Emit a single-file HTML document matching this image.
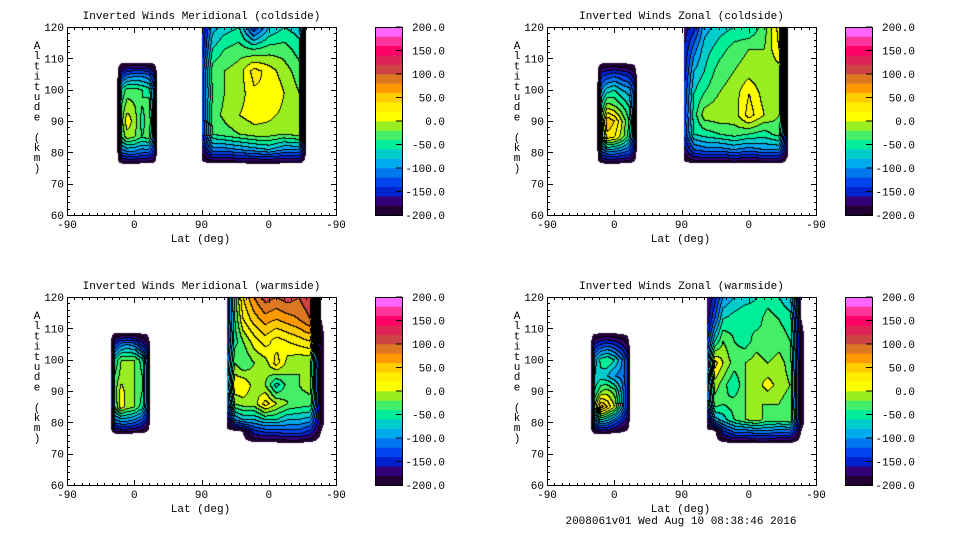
<!DOCTYPE html>
<html><head><meta charset="utf-8"><style>
html,body{margin:0;padding:0;background:#fff;}
#wrap{position:relative;width:960px;height:540px;overflow:hidden;}
canvas,svg{position:absolute;left:0;top:0;}
text{font-family:"Liberation Mono",monospace;font-size:11px;fill:#000;}
</style></head><body>
<div id="wrap">
<canvas id="cv" width="960" height="540"></canvas>
<svg id="sv" width="960" height="540"></svg>
</div>
<script>
// ---- data ----
const levelColors = ["#220033","#330077","#0022cc","#0044ee","#0077ee","#00aaee","#00cccc","#00ee99","#44ee66","#99ee22","#ffff00","#ffee00","#ffcc00","#ff9900","#dd7722","#cc4444","#dd2255","#ff0066","#ff3399","#ff66ff"];
const cbTicks = [-200,-150,-100,-50,0,50,100,150,200];
const cbLabels = ["-200.0","-150.0","-100.0","-50.0","0.0","50.0","100.0","150.0","200.0"];
const altTicks = [60,70,80,90,100,110,120];
const latTickLabels = ["-90","0","90","0","-90"];
const panelTitles = ["Inverted Winds Meridional (coldside)","Inverted Winds Zonal (coldside)","Inverted Winds Meridional (warmside)","Inverted Winds Zonal (warmside)"];

const altsA = [109,105,100,95,90,85,80,76];
const latsA1 = [-23,-18,-10,0,10,19,26,31];
const latsA3 = [-32,-27,-18,-10,0,10,17,22];
const vals1A = [
[-210,-210,-210,-210,-210,-210,-210,-210],
[-210,-150,-120,-110,-110,-120,-150,-210],
[-210,-60,-30,-30,-40,-50,-110,-210],
[-210,-40,-10,-20,-40,-30,-110,-210],
[-210,-30,15,-10,-50,-20,-110,-210],
[-210,-40,-10,-20,-40,-30,-110,-210],
[-210,-120,-110,-110,-120,-120,-150,-210],
[-210,-210,-210,-210,-210,-210,-210,-210]];
const vals2A = [
[-210,-210,-210,-210,-210,-210,-210,-210],
[-210,-150,-140,-130,-140,-150,-170,-210],
[-210,-100,-70,-60,-80,-90,-130,-210],
[-210,-60,-10,-20,-40,-60,-130,-210],
[-210,-30,60,40,0,-40,-130,-210],
[-210,-40,30,20,-10,-50,-130,-210],
[-210,-130,-110,-110,-120,-130,-170,-210],
[-210,-210,-210,-210,-210,-210,-210,-210]];
const vals3A = [
[-210,-210,-210,-210,-210,-210,-210,-210],
[-210,-150,-110,-100,-110,-150,-170,-210],
[-210,-60,-20,-20,-20,-50,-120,-210],
[-210,-40,-10,-15,-20,-40,-120,-210],
[-210,-30,10,-10,-20,-40,-120,-210],
[-210,-40,10,-10,-20,-50,-120,-210],
[-210,-120,-110,-110,-120,-140,-170,-210],
[-210,-210,-210,-210,-210,-210,-210,-210]];
const vals4A = [
[-210,-210,-210,-210,-210,-210,-210,-210],
[-210,-160,-140,-130,-140,-160,-180,-210],
[-210,-90,-50,-40,-60,-100,-140,-210],
[-210,-80,-70,-80,-100,-110,-140,-210],
[-210,-60,-20,-10,-30,-90,-140,-210],
[-210,-20,70,40,0,-80,-140,-210],
[-210,-120,-90,-100,-130,-160,-180,-210],
[-210,-210,-210,-210,-210,-210,-210,-210]];

const altsB1 = [120,113,106,99,92,86,81,76];
const latsB1 = [89,76,60,40,20,0,-20,-40,-50,-53];
const latsB2 = [87,74,60,40,20,0,-20,-40,-53,-56];
const vals1B = [
[-160,-90,-70,-60,-140,-80,-60,-70,-200,-210],
[-150,-60,-40,-30,-40,-30,-30,-50,-200,-210],
[-130,-30,-20,-10,30,10,-10,-30,-200,-210],
[-130,-40,-20,-10,15,20,0,-20,-200,-210],
[-130,-30,-15,0,10,5,-5,-10,-200,-210],
[-140,-40,-30,-20,-10,-10,-20,-10,-200,-210],
[-170,-110,-110,-100,-90,-80,-100,-100,-200,-210],
[-210,-210,-210,-210,-210,-210,-210,-210,-210,-210]];
const vals2B = [
[-170,-150,-90,-70,-60,-60,-30,30,-200,-210],
[-160,-110,-70,-50,-30,-20,-20,20,-200,-210],
[-150,-80,-60,-30,-20,-10,-20,-10,-200,-210],
[-140,-60,-40,-20,-10,20,-10,-20,-200,-210],
[-130,-50,-10,-5,-10,30,0,-20,-200,-210],
[-140,-60,-50,-40,-30,-40,-50,-30,-200,-210],
[-170,-120,-110,-110,-100,-110,-100,-100,-200,-210],
[-210,-210,-210,-210,-210,-210,-210,-210,-210,-210]];
const altsB3 = [120,113,106,99,92,86,81,77,73];
const latsB3 = [56,46,35,20,5,-10,-25,-40,-55,-70,-79];
const vals3B = [
[-130,-30,40,80,110,100,110,100,120,-200,-210],
[-130,-40,20,50,70,60,70,80,100,-200,-210],
[-140,-50,-20,10,30,10,20,30,40,-190,-210],
[-120,-20,-40,-20,-10,30,-10,-20,-20,-190,-210],
[-100,20,20,-10,-20,-70,-30,-20,-10,-190,-210],
[-120,-20,-10,-10,30,0,-20,-30,-30,-190,-210],
[-170,-100,-80,-80,-60,-60,-80,-80,-90,-190,-210],
[-210,-210,-200,-150,-140,-140,-130,-130,-150,-200,-210],
[-210,-210,-210,-210,-210,-210,-210,-210,-210,-210,-210]];
const vals4B = [
[-180,-150,-100,-80,-70,-60,-50,-60,-80,-200,-210],
[-170,-120,-60,-50,-40,-50,-30,-40,-50,-200,-210],
[-140,-60,-20,-40,-50,-30,-40,-30,-40,-190,-210],
[-100,30,0,-30,-20,-10,-20,-10,-30,-190,-210],
[-120,-10,-30,-60,-20,-10,10,-10,-20,-190,-210],
[-130,-30,-40,-30,-20,-20,-20,-20,-30,-190,-210],
[-170,-90,-70,-40,-20,-10,-30,-30,-20,-190,-210],
[-210,-210,-150,-120,-120,-110,-110,-120,-120,-200,-210],
[-210,-210,-210,-210,-210,-210,-210,-210,-210,-210,-210]];

const panels = [
 {x0:67,y0:27,cbx:375,A:{lats:latsA1,alts:altsA,v:vals1A},B:{lats:latsB1,alts:altsB1,v:vals1B}},
 {x0:547,y0:27,cbx:845,A:{lats:latsA1,alts:altsA,v:vals2A},B:{lats:latsB2,alts:altsB1,v:vals2B}},
 {x0:67,y0:297,cbx:375,A:{lats:latsA3,alts:altsA,v:vals3A},B:{lats:latsB3,alts:altsB3,v:vals3B}},
 {x0:547,y0:297,cbx:845,A:{lats:latsA3,alts:altsA,v:vals4A},B:{lats:latsB3,alts:altsB3,v:vals4B}}
];
const W=269,H=188;
// ---- scales ----
function xOfU(p,u){return p.x0+u/360*W;}
function yOfAlt(p,a){return p.y0+(120-a)/60*H;}
function altOfY(p,y){return 120-(y-p.y0)/H*60;}
function uOfX(p,x){return (x-p.x0)/W*360;}

const cv=document.getElementById('cv');const ctx=cv.getContext('2d');
const img=ctx.createImageData(960,540);
function hex(c){return [parseInt(c.substr(1,2),16),parseInt(c.substr(3,2),16),parseInt(c.substr(5,2),16)];}
const rgb=levelColors.map(hex);
for(let i=0;i<img.data.length;i+=4){img.data[i]=255;img.data[i+1]=255;img.data[i+2]=255;img.data[i+3]=255;}

function interp(us,alts,v,u,a){
 if(u<us[0]||u>us[us.length-1]||a>alts[0]||a<alts[alts.length-1])return null;
 let i=0;while(i<us.length-2&&u>us[i+1])i++;
 let j=0;while(j<alts.length-2&&a<alts[j+1])j++;
 const tx=(u-us[i])/(us[i+1]-us[i]),ty=(alts[j]-a)/(alts[j]-alts[j+1]);
 const a0=v[j][i]*(1-tx)+v[j][i+1]*tx, a1=v[j+1][i]*(1-tx)+v[j+1][i+1]*tx;
 return a0*(1-ty)+a1*ty;
}
function band(val){if(val===null||val<-200)return -1;let b=Math.floor((val+200)/20);return Math.min(19,b);}

panels.forEach(p=>{
 const regions=[{us:p.A.lats.map(l=>l+90),alts:p.A.alts,v:p.A.v},
                {us:p.B.lats.map(l=>180+(90-l)),alts:p.B.alts,v:p.B.v}];
 const bands=[];
 for(let y=p.y0;y<=p.y0+H;y++){const row=[];
  for(let x=p.x0;x<=p.x0+W;x++){
   const u=uOfX(p,x+0.5),a=altOfY(p,y+0.5);let b=-1;
   for(const r of regions){const val=interp(r.us,r.alts,r.v,u,a);if(val!==null){b=band(val);break;}}
   row.push(b);}
  bands.push(row);}
 for(let yy=0;yy<bands.length;yy++)for(let xx=0;xx<bands[yy].length;xx++){
  const b=bands[yy][xx];if(b<0)continue;
  let c=rgb[b];
  const l=xx>0?bands[yy][xx-1]:b,t=yy>0?bands[yy-1][xx]:b;
  if((l>=0&&l!==b)||(t>=0&&t!==b))c=[0,0,0];
  const idx=((p.y0+yy)*960+(p.x0+xx))*4;img.data[idx]=c[0];img.data[idx+1]=c[1];img.data[idx+2]=c[2];
 }
});
ctx.putImageData(img,0,0);

// ---- axes ----
const NS='http://www.w3.org/2000/svg';const sv=document.getElementById('sv');
function el(tag,attrs,parent){const e=document.createElementNS(NS,tag);for(const k in attrs)e.setAttribute(k,attrs[k]);(parent||sv).appendChild(e);return e;}
panels.forEach((p,pi)=>{
 const g=el('g',{});
 
 
 const fr=el('rect',{x:p.x0+0.5,y:p.y0+0.5,width:W,height:H,fill:'none',stroke:'#000','stroke-width':1},g);
 
 
 const tt=el('text',{x:p.x0+W/2,y:p.y0-8,'text-anchor':'middle'},g);tt.textContent=panelTitles[pi];
 
 
 for(let a=60;a<=120;a+=2){const y=Math.round(yOfAlt(p,a))+0.5;const L=(a%10===0)?6:3;
  el('line',{x1:p.x0,x2:p.x0+L,y1:y,y2:y,stroke:'#000'},g);el('line',{x1:p.x0+W+1,x2:p.x0+W+1-L,y1:y,y2:y,stroke:'#000'},g);}
 altTicks.forEach(a=>{const t=el('text',{x:p.x0-3,y:yOfAlt(p,a)+4,'text-anchor':'end'},g);t.textContent=a;
  
  });
 for(let u=0;u<=360;u+=10){const x=Math.round(xOfU(p,u))+0.5;const L=(u%90===0)?6:3;
  el('line',{x1:x,x2:x,y1:p.y0+H+1,y2:p.y0+H+1-L,stroke:'#000'},g);el('line',{x1:x,x2:x,y1:p.y0,y2:p.y0+L,stroke:'#000'},g);}
 latTickLabels.forEach((s,i)=>{const t=el('text',{x:xOfU(p,i*90),y:p.y0+H+13,'text-anchor':'middle'},g);t.textContent=s;
  
  });
 const xl=el('text',{x:p.x0+W/2-1,y:p.y0+H+27,'text-anchor':'middle'},g);xl.textContent='Lat (deg)';
 
 
 const yl=el('text',{x:p.x0-30,y:p.y0+22,'text-anchor':'middle'},g);
 
 
 'Altitude (km)'.split('').forEach((ch,i)=>{const ts=el('tspan',{x:p.x0-30,y:p.y0+22+i*10.2},yl);ts.textContent=ch===' '?'\u00a0':ch;});
 const cb=el('g',{},g);
 
 
 const bh=H/levelColors.length;
 levelColors.forEach((c,i)=>{el('rect',{x:p.cbx,y:p.y0+H-(i+1)*bh,width:27,height:bh+0.3,fill:c},cb);});
 el('rect',{x:p.cbx+0.5,y:p.y0+0.5,width:27,height:H,fill:'none',stroke:'#000'},cb);
 cbTicks.forEach((v,i)=>{const y=p.y0+H-(v+200)/400*H;
  el('line',{x1:p.cbx+21,x2:p.cbx+27,y1:y,y2:y,stroke:'#000'},cb);
  const t=el('text',{x:p.cbx+70,y:y+4,'text-anchor':'end'},cb);t.textContent=cbLabels[i];
  
  });
});
const ft=el('text',{x:681,y:524,'text-anchor':'middle'});ft.textContent='2008061v01 Wed Aug 10 08:38:46 2016';


</script>
</body></html>
